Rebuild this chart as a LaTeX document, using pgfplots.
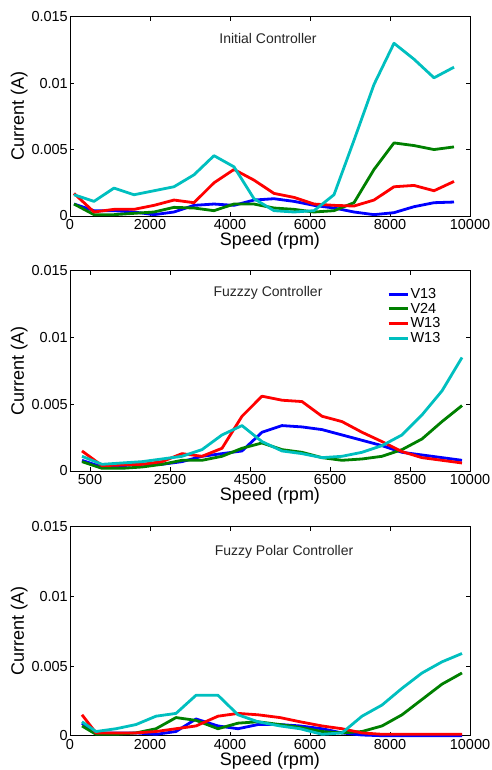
\documentclass[border=0pt]{standalone}
\usepackage{fontspec}
\setmainfont{Liberation Sans}
\usepackage{pgfplots}
\pgfplotsset{compat=1.18}

\definecolor{mblue}{RGB}{0,0,255}
\definecolor{mgreen}{RGB}{0,128,0}
\definecolor{mred}{RGB}{255,0,0}
\definecolor{mcyan}{RGB}{0,191,191}

\pgfplotsset{
  panel/.style={
    width=400pt, scale only axis, xmin=0, xmax=10000, ymin=0, ymax=0.015,
    ytick={0,0.005,0.01,0.015}, yticklabels={0,0.005,0.01,0.015},
    scaled y ticks=false, scaled x ticks=false,
    tick align=inside, major tick length=4pt,
    xtick pos=both, ytick pos=both,
    ticklabel style={font=\fontsize{14.5}{16}\selectfont},
    yticklabel style={inner xsep=2pt},
    xlabel={Speed (rpm)}, ylabel={Current (A)},
    label style={font=\fontsize{18}{20}\selectfont},
    axis line style={line width=0.8pt},
    every tick/.style={black, line width=0.8pt},
    every axis plot/.append style={line width=2.8pt, line join=round},
    no markers, clip=false,
  }
}

\begin{document}
\begin{tikzpicture}
\useasboundingbox (0,0) rectangle (491pt,770pt);

% ---------------- Panel 1 ----------------
\begin{axis}[panel, height=199.3pt, at={(70pt,554pt)}, anchor=south west,
  xtick={0,2000,4000,6000,8000,10000}, xticklabels={0,2000,4000,6000,8000,10000},
  xlabel style={at={(axis description cs:0.5,-0.1505)}, anchor=base},
  ylabel style={at={(axis description cs:-0.115,0.5)}, anchor=base}]
\addplot[mblue] coordinates {(100,0.0009)(600,0.0004)(1100,0.0004)(1600,0.0003)(2100,0.0001)(2600,0.0003)(3100,0.0008)(3600,0.0009)(4100,0.0008)(4600,0.0012)(5100,0.0013)(5600,0.0011)(6100,0.0008)(6600,0.0006)(7100,0.0003)(7600,0.0001)(8100,0.00025)(8600,0.0007)(9100,0.001)(9600,0.00105)};
\addplot[mgreen] coordinates {(100,0.0009)(600,0.0001)(1100,0.0001)(1600,0.0002)(2100,0.0003)(2600,0.00065)(3100,0.0006)(3600,0.0004)(4100,0.0009)(4600,0.0009)(5100,0.0006)(5600,0.0005)(6100,0.0003)(6600,0.0004)(7100,0.001)(7600,0.0035)(8100,0.0055)(8600,0.0053)(9100,0.0050)(9600,0.0052)};
\addplot[mred] coordinates {(100,0.0017)(600,0.0003)(1100,0.0005)(1600,0.0005)(2100,0.0008)(2600,0.0012)(3100,0.001)(3600,0.0025)(4100,0.0035)(4600,0.0027)(5100,0.0017)(5600,0.0014)(6100,0.0009)(6600,0.0008)(7100,0.00075)(7600,0.0012)(8100,0.0022)(8600,0.0023)(9100,0.0019)(9600,0.0026)};
\addplot[mcyan] coordinates {(100,0.0016)(600,0.0011)(1100,0.0021)(1600,0.0016)(2100,0.0019)(2600,0.0022)(3100,0.0031)(3600,0.00454)(4100,0.0037)(4600,0.0013)(5100,0.0004)(5600,0.0003)(6100,0.0004)(6600,0.0016)(7100,0.0057)(7600,0.0099)(8100,0.0130)(8600,0.0118)(9100,0.0104)(9600,0.0112)};
\node[font=\fontsize{14}{16}\selectfont, text=black!85] at (axis description cs:0.495,0.892) {Initial Controller};
\end{axis}

% ---------------- Panel 2 ----------------
\begin{axis}[panel, height=200.3pt, at={(70pt,299pt)}, anchor=south west,
  xtick={500,2500,4500,6500,8500,10000}, xticklabels={500,2500,4500,6500,8500,10000},
  xlabel style={at={(axis description cs:0.5,-0.1498)}, anchor=base},
  ylabel style={at={(axis description cs:-0.115,0.5)}, anchor=base},
  legend style={draw=none, fill=none, at={(axis description cs:0.785,0.93)}, anchor=north west,
    font=\fontsize{14.5}{16}\selectfont, row sep=0pt, nodes={inner sep=1.5pt}},
  legend cell align=left,
  legend image code/.code={\draw[#1] (0pt,0pt) -- (19pt,0pt);}]
\addplot[mblue] coordinates {(300,0.0008)(800,0.0003)(1300,0.0004)(1800,0.0005)(2300,0.0005)(2800,0.0007)(3300,0.0011)(3800,0.0013)(4300,0.0015)(4800,0.0029)(5300,0.0034)(5800,0.0033)(6300,0.0031)(6800,0.0027)(7300,0.0023)(7800,0.0019)(8300,0.0014)(8800,0.0012)(9300,0.001)(9800,0.0008)};
\addlegendentry{V13}
\addplot[mgreen] coordinates {(300,0.0007)(800,0.0002)(1300,0.0002)(1800,0.0003)(2300,0.0005)(2800,0.0008)(3300,0.0008)(3800,0.0011)(4300,0.0017)(4800,0.0021)(5300,0.0016)(5800,0.0014)(6300,0.001)(6800,0.0008)(7300,0.0009)(7800,0.0011)(8300,0.0016)(8800,0.0024)(9300,0.0037)(9800,0.0049)};
\addlegendentry{V24}
\addplot[mred] coordinates {(300,0.0015)(800,0.0004)(1300,0.00045)(1800,0.0005)(2300,0.0007)(2800,0.0013)(3300,0.0011)(3800,0.0017)(4300,0.0041)(4800,0.0056)(5300,0.0053)(5800,0.0052)(6300,0.0041)(6800,0.0037)(7300,0.0029)(7800,0.0022)(8300,0.00145)(8800,0.001)(9300,0.0008)(9800,0.0006)};
\addlegendentry{W13}
\addplot[mcyan] coordinates {(300,0.0011)(800,0.0005)(1300,0.0006)(1800,0.0007)(2300,0.0009)(2800,0.0011)(3300,0.0016)(3800,0.0027)(4300,0.0034)(4800,0.0022)(5300,0.0015)(5800,0.0013)(6300,0.001)(6800,0.0011)(7300,0.0014)(7800,0.0019)(8300,0.0027)(8800,0.0042)(9300,0.006)(9800,0.0085)};
\addlegendentry{W13}
\node[font=\fontsize{14}{16}\selectfont, text=black!85] at (axis description cs:0.495,0.89) {Fuzzzy Controller};
\end{axis}

% ---------------- Panel 3 ----------------
\begin{axis}[panel, height=209pt, at={(70pt,34.3pt)}, anchor=south west,
  xtick={0,2000,4000,6000,8000,10000}, xticklabels={0,2000,4000,6000,8000,10000},
  xlabel style={at={(axis description cs:0.5,-0.1435)}, anchor=base},
  ylabel style={at={(axis description cs:-0.115,0.5)}, anchor=base}]
\addplot[mblue] coordinates {(300,0.0009)(650,0.0002)(1150,0.0002)(1650,0.0002)(2150,0.0001)(2650,0.0003)(3150,0.0012)(3700,0.0007)(4200,0.0005)(4700,0.0008)(5250,0.0008)(5750,0.0007)(6300,0.0005)(6800,0.0002)(7300,0.00005)(7800,0.0)(8300,0.0)(8800,0.0)(9300,0.0)(9800,0.0)};
\addplot[mgreen] coordinates {(300,0.0007)(650,0.0001)(1150,0.0001)(1650,0.0002)(2150,0.0005)(2650,0.0013)(3150,0.0011)(3700,0.0005)(4200,0.0009)(4700,0.0010)(5250,0.0008)(5750,0.0006)(6300,0.0003)(6800,0.0002)(7300,0.0003)(7800,0.0007)(8300,0.0015)(8800,0.0026)(9300,0.0037)(9800,0.0045)};
\addplot[mred] coordinates {(300,0.0015)(650,0.0002)(1150,0.0002)(1650,0.0002)(2150,0.0003)(2650,0.0005)(3150,0.0007)(3700,0.0014)(4200,0.0016)(4700,0.0015)(5250,0.0013)(5750,0.001)(6300,0.0007)(6800,0.0005)(7300,0.0002)(7800,0.0001)(8300,0.0001)(8800,0.0001)(9300,0.0001)(9800,0.0001)};
\addplot[mcyan] coordinates {(300,0.0010)(650,0.0003)(1150,0.0005)(1650,0.0008)(2150,0.0014)(2650,0.0016)(3150,0.0029)(3700,0.0029)(4200,0.0015)(4700,0.0010)(5250,0.0007)(5750,0.0005)(6300,0.0001)(6800,0.0002)(7300,0.0014)(7800,0.0022)(8300,0.0034)(8800,0.0045)(9300,0.0053)(9800,0.0059)};
\node[font=\fontsize{14}{16}\selectfont, text=black!85] at (axis description cs:0.535,0.88) {Fuzzy Polar Controller};
\end{axis}
\end{tikzpicture}
\end{document}
